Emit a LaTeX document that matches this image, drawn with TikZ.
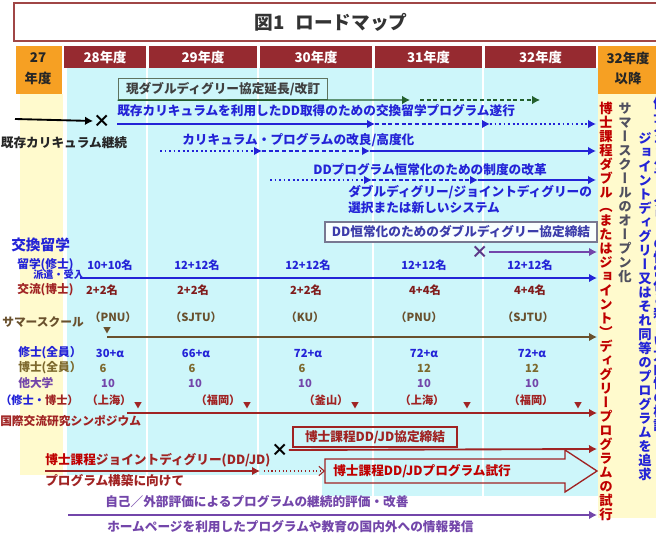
\documentclass[tikz,border=0pt]{standalone}
\usepackage{fontspec}
\setmainfont{Noto Sans CJK JP}
\newfontfamily\tatefont[RawFeature=+vert]{Noto Sans CJK JP}
\usetikzlibrary{arrows.meta}
\definecolor{hdred}{RGB}{150,42,48}
\definecolor{orng}{RGB}{246,160,35}
\definecolor{ltblue}{RGB}{205,246,250}
\definecolor{ltyel}{RGB}{255,250,205}
\definecolor{tborder}{RGB}{160,70,70}
\definecolor{dkblue}{RGB}{35,35,215}
\definecolor{dkred}{RGB}{160,35,35}
\definecolor{brn}{RGB}{105,80,45}
\definecolor{olv}{RGB}{125,105,45}
\definecolor{prp}{RGB}{115,70,170}
\definecolor{dkgrn}{RGB}{35,95,45}
\definecolor{gry}{RGB}{80,80,95}
\definecolor{grnbox}{RGB}{95,115,95}
\definecolor{grybox}{RGB}{120,120,145}
\definecolor{ddtext}{RGB}{60,60,170}
\def\tateend{}
\newcommand{\tate}[1]{\vbox{\offinterlineskip\tatestep#1\tateend}}
\def\tatestep#1{\ifx#1\tateend\else\hbox to 1em{\hss\vrule height .9em depth .15em width 0pt\relax#1\hss}\expandafter\tatestep\fi}
\begin{document}
\begin{tikzpicture}[x=0.75pt,y=-0.75pt]
		\tikzstyle{lbl}=[inner sep=0pt,font=\fontsize{9.5}{11}\selectfont\bfseries]
		\tikzstyle{sml}=[inner sep=0pt,font=\fontsize{8.8}{10}\selectfont\bfseries]
		\tikzstyle{val}=[inner sep=0pt,font=\fontsize{8.4}{10}\selectfont\bfseries]
		\tikzstyle{hdr}=[inner sep=0pt,text=white,font=\fontsize{10}{12}\selectfont\bfseries]
		\tikzstyle{tatecol}=[inner sep=0pt,anchor=north,font=\tatefont\fontsize{10}{10}\selectfont\bfseries]
		\tikzstyle{arr}=[line width=1.4pt,-{Latex[length=6pt,width=6.5pt]}]
		\tikzstyle{cross}=[inner sep=0pt,font=\fontsize{13}{13}\selectfont\bfseries]
		\tikzstyle{tri}=[inner sep=0pt,text=dkred,font=\fontsize{6}{6}\selectfont]
		\tikzstyle{framebox}=[draw,line width=0.9pt,inner sep=0pt]
		\useasboundingbox (0,0) rectangle (656,542);
		\fill[ltblue] (67,68) rectangle (598,475);
		\fill[ltblue] (322,475) rectangle (598,496);
		\fill[ltyel] (20,94) rectangle (63,475);
		\fill[ltyel] (598,94) rectangle (660,518);
		\foreach \x in {147,258,373,483}
			\draw[white,line width=2pt] (\x,68) -- (\x,496);
		\draw[tborder,line width=1.5pt,fill=white] (14,3) rectangle (664,41);
		\node[font=\fontsize{14}{16}\selectfont\bfseries,text=black!80] (title) at (331,22) {図1\hspace{0.6em}ロードマップ};
		\fill[orng] (16,46) rectangle (62,94);
		\fill[orng] (598,46) rectangle (662,94);
		\node[hdr,text=black!85] (y27) at (38,58) {27};
		\node[hdr,text=black!85] (y27b) at (38,78) {年度};
		\node[hdr,text=black!85] (y32) at (628,58) {32年度};
		\node[hdr,text=black!85] (y32b) at (628,78) {以降};
		\foreach \a/\b/\t in {64/146/28,149/257/29,260/372/30,375/482/31,485/596/32}{
			\fill[hdred] (\a,46) rectangle (\b,68);
			\node[hdr] (h\t) at ({(\a+\b)/2},57) {\t 年度};
		}
		\node[framebox,draw=grnbox,lbl,text=black!75,minimum width=157pt,minimum height=16pt] (gen) at (223,89) {現ダブルディグリー協定延長/改訂};
		\coordinate (g1) at (410,100);
		\coordinate (g2) at (420,100);
		\coordinate (g3) at (540,100);
		\draw[arr,dkgrn,line width=1pt] (gen.south west) -- (g1);
		\draw[arr,dkgrn,line width=1pt,densely dashed] (g2) -- (g3);
		\coordinate (k0) at (15,119);
		\node[cross] (x1) at (102,121) {×};
		\draw[arr,black] (k0) -- (x1.west);
		\node[lbl,anchor=west,text=dkblue] (exch) at (117,111) {既存カリキュラムを利用したDD取得のための交換留学プログラム遂行};
		\coordinate (b0) at (117,124);
		\coordinate (b1) at (375,124);
		\coordinate (b2) at (490,124);
		\coordinate (b3) at (596,124);
		\draw[arr,dkblue] (b0) -- (b1);
		\draw[arr,dkblue,densely dashed] (b1) -- (b2);
		\draw[arr,dkblue,dotted] (b2) -- (b3);
		\node[lbl,text=black!85] (keizoku) at (64,143) {既存カリキュラム継続};
		\node[lbl,anchor=west,text=dkblue] (kaizen) at (182,140) {カリキュラム・プログラムの改良/高度化};
		\coordinate (c0) at (160,151);
		\coordinate (c1) at (262,151);
		\coordinate (c2) at (370,151);
		\coordinate (c3) at (596,151);
		\draw[arr,dkblue,dotted] (c0) -- (c1);
		\draw[arr,dkblue,densely dashed] (c1) -- (c2);
		\draw[arr,dkblue] (c2) -- (c3);
		\node[lbl,anchor=west,text=dkblue] (seido) at (313,170) {DDプログラム恒常化のための制度の改革};
		\coordinate (d0) at (270,180);
		\coordinate (d1) at (372,180);
		\coordinate (d2) at (478,180);
		\coordinate (d3) at (596,180);
		\draw[arr,dkblue,dotted] (d0) -- (d1);
		\draw[arr,dkblue,densely dashed] (d1) -- (d2);
		\draw[arr,dkblue] (d2) -- (d3);
		\node[lbl,anchor=north west,align=left,text=dkblue,font=\fontsize{9.5}{12}\selectfont\bfseries] (sentaku) at (348,185) {ダブルディグリー/ジョイントディグリーの\\選択または新しいシステム};
		\node[framebox,draw=grybox,fill=white!85!ltblue,lbl,text=ddtext,minimum width=204pt,minimum height=15pt] (ddkyo) at (461,232) {DD恒常化のためのダブルディグリー協定締結};
		\node[cross,text=prp!80!black] (x2) at (480,252) {×};
		\coordinate (p1) at (597,252);
		\draw[arr,prp] (x2.east) -- (p1);
		\node[inner sep=0pt,anchor=west,text=dkblue,font=\fontsize{11}{12}\selectfont\bfseries] (kokan) at (11,245) {交換留学};
		\node[sml,anchor=west,text=dkblue] (ryu) at (17,265) {留学(修士)};
		\foreach \x/\t [count=\i] in {110/10+10名,197/12+12名,308/12+12名,424/12+12名,530/12+12名}
			\node[val,text=dkblue] (ryu\i) at (\x,265) {\t};
		\node[inner sep=0pt,anchor=west,text=dkblue,font=\fontsize{7.6}{8}\selectfont\bfseries] (haken) at (33,275) {派遣・受入};
		\coordinate (e0) at (80,278);
		\coordinate (e1) at (597,278);
		\draw[arr,dkblue] (e0) -- (e1);
		\node[sml,anchor=west,text=dkred] (koryu) at (17,290) {交流(博士)};
		\foreach \x/\t [count=\i] in {102/2+2名,193/2+2名,306/2+2名,425/4+4名,530/4+4名}
			\node[val,text=dkred!80!black] (kor\i) at (\x,290) {\t};
		\node[sml,anchor=west,text=brn] (summer) at (2,322) {サマースクール};
		\foreach \x/\t [count=\i] in {113/（PNU）,196/（SJTU）,305/（KU）,419/（PNU）,528/（SJTU）}
			\node[val,text=brn] (sch\i) at (\x,317) {\t};
		\node[tri,text=brn] (tri0) at (107,331) {▼};
		\coordinate (s1) at (597,337);
		\draw[arr,brn] (tri0.south |- s1) -- (s1);
		\node[sml,anchor=west,text=dkblue] (mas) at (18,353) {修士(全員）};
		\node[sml,anchor=west,text=olv] (doc) at (18,368) {博士(全員）};
		\node[sml,anchor=west,text=prp] (oth) at (18,383) {他大学};
		\foreach \x/\t [count=\i] in {110/30+α,196/66+α,308/72+α,424/72+α,532/72+α}
			\node[val,text=dkblue] (mas\i) at (\x,353) {\t};
		\foreach \x/\t [count=\i] in {103/6,192/6,302/6,424/12,532/12}
			\node[val,text=olv] (doc\i) at (\x,368) {\t};
		\foreach \x/\t [count=\i] in {108/10,195/10,305/10,424/10,532/10}
			\node[val,text=prp] (oth\i) at (\x,383) {\t};
		\node[val,anchor=west] (msdc) at (0,400) {{\color{dkblue}（修士・}{\color{dkred}博士）}};
		\foreach \x/\t [count=\i] in {109/（上海）,218/（福岡）,326/（釜山）,422/（上海）,531/（福岡）}
			\node[val,text=dkred] (city\i) at (\x,400) {\t};
		\foreach \x [count=\i] in {138,247,355,467,578}
			\node[tri] (pin\i) at (\x,406) {▼};
		\coordinate (y1) at (597,413);
		\draw[arr,dkred] (127,413) -- (y1);
		\node[sml,anchor=west,text=dkred] (symp) at (0,421) {国際交流研究シンポジウム};
		\node[framebox,draw=dkred,lbl,text=dkred,minimum width=123pt,minimum height=15pt] (djkyo) at (375,437) {博士課程DD/JD協定締結};
		\node[cross] (x3) at (280,450) {×};
		\coordinate (z1) at (597,449);
		\draw[arr,dkred] (x3.east) -- (z1);
		\node[lbl,anchor=west,text=dkred] (jd) at (45,460) {{\color{red!75!black}博士課程}ジョイントディグリー(DD/JD)};
		\node[lbl,anchor=west,text=dkred] (kochiku) at (45,481) {プログラム構築に向けて};
		\coordinate (j1) at (260,471);
		\coordinate (j2) at (264,471);
		\coordinate (j3) at (325,471);
		\draw[arr,dkred] (jd.west |- j1) -- (j1);
		\draw[dkred,thick,dotted,-{Straight Barb[length=4pt,width=7pt]}] (j2) -- (j3);
		\draw[dkred,line width=1pt] (325,459) -- (565,459) -- (565,450) -- (597,471) -- (565,492) -- (565,483) -- (325,483) -- cycle;
		\node[lbl,anchor=west,text=red!75!black] (trial) at (333,471) {博士課程DD/JDプログラム試行};
		\node[lbl,anchor=west,text=prp] (hyoka) at (105,502) {自己／外部評価によるプログラムの継続的評価・改善};
		\coordinate (h0) at (68,515);
		\coordinate (h1) at (597,515);
		\draw[arr,prp] (h0) -- (h1);
		\node[lbl,anchor=west,text=prp] (hp) at (107,527) {ホームページを利用したプログラムや教育の国内外への情報発信};
		\node[tatecol,text=red!75!black] (v1) at (606,101) {\tate{博士課程ダブル（またはジョイント）ディグリープログラムの試行}};
		\node[tatecol,text=gry] (v2) at (625,101) {\tate{サマースクールのオープン化}};
		\node[tatecol,text=dkblue] (v3) at (645,131) {\tate{ジョイントディグリー又はそれ同等のプログラムを追求}};
		\node[tatecol,text=dkblue] (v4) at (660,96) {\tate{修士ダブルディグリーの恒常化と新しい方向性の検討}};
\end{tikzpicture}
\end{document}
